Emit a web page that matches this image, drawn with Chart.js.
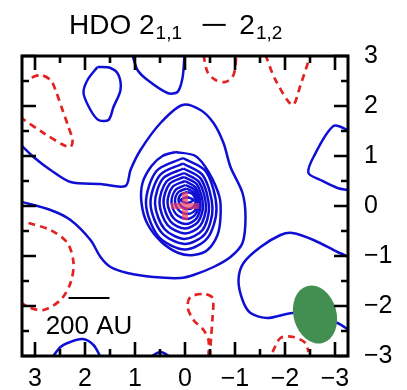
<!DOCTYPE html>
<html><head><meta charset="utf-8">
<script src="https://cdn.jsdelivr.net/npm/chart.js@4.4.1/dist/chart.umd.min.js"></script>
<style>
html,body{margin:0;padding:0;background:#fff;}
#wrap{position:relative;width:407px;height:390px;overflow:hidden;}
canvas{position:absolute;left:0;top:0;}
#title{position:absolute;left:69px;top:11px;font-family:'Liberation Sans',Arial,sans-serif;font-size:28px;line-height:28px;white-space:nowrap;color:#000;}
#title .sub{font-size:19px;position:relative;top:5px;margin-left:1px;}
#title .op{display:inline-block;transform:scaleX(1.7);margin-left:24px;margin-right:17px;}
</style></head><body>
<div id="wrap"><canvas id="c" width="407" height="390"></canvas>
<div id="title">HDO 2<span class="sub">1,1</span><span class="op">−</span>2<span class="sub">1,2</span></div></div>
<script>
// ---- axes ----
const xTicks = [3, 2, 1, 0, -1, -2, -3];
const yTicks = [-3, -2, -1, 0, 1, 2, 3];
const minorTicks = [-2.5, -1.5, -0.5, 0.5, 1.5, 2.5];
const xRange = [-3.26, 3.26];
const yRange = [-3, 3];

// ---- markers ----
const sourcePos = [[0, 0]];
const scaleBarAU = [[2.33, -1.84], [1.51, -1.84]];
const scaleBarLabel = '200 AU';
const scaleBarLabelPos = [1.92, -2.42];
const beamCenter = [-2.6, -2.17];
const beamAxes = [0.43, 0.59]; // semi-minor, semi-major (arcsec)
const beamPA = -15;            // degrees

// ---- positive contours (solid blue) ----
const blueNorthEdge = [[1.05,3.02],[0.95,2.72],[0.75,2.52],[0.35,2.26],[0.15,2.28],[0.05,2.56],[0.01,3.02]];
const blueNWIsland = [[1.75,2.78],[1.49,2.76],[1.33,2.62],[1.29,2.32],[1.43,1.98],[1.53,1.72],[1.73,1.72],[1.89,1.92],[2.03,2.26],[1.95,2.52],[1.75,2.78]];
const blueMain = [[3.3,1.24],[3.03,0.98],[2.69,0.72],[2.29,0.48],[1.69,0.44],[1.19,0.40],[1.09,0.72],[0.89,1.12],[0.49,1.66],[0.05,2.02],[-0.31,1.92],[-0.57,1.66],[-0.77,1.26],[-0.91,0.78],[-1.15,0.26],[-1.21,-0.22],[-1.15,-0.74],[-0.91,-1.02],[-0.57,-1.22],[-0.17,-1.38],[0.09,-1.44],[0.63,-1.42],[1.15,-1.34],[1.49,-1.22],[1.69,-1.02],[1.89,-0.68],[2.29,-0.28],[2.69,-0.08],[3.3,0.09]];
const blueEastEdge = [[-3.3,1.50],[-2.97,1.6],[-2.57,0.98],[-2.47,0.66],[-2.71,0.52],[-3.05,0.36],[-3.3,0.31]];
const blueSouthEast = [[-3.3,-1.03],[-3.05,-0.92],[-2.57,-0.68],[-2.15,-0.54],[-1.91,-0.58],[-1.51,-0.82],[-1.17,-1.14],[-1.07,-1.48],[-1.15,-1.88],[-1.31,-2.14],[-1.65,-2.24],[-2.15,-2.14],[-2.6,-2.2],[-3.05,-2.34],[-3.3,-2.5]];
const blueSouth1 = [[2.65,-3.02],[2.49,-2.82],[2.35,-2.74],[2.05,-2.66],[1.83,-2.78],[1.69,-3.02]];
const blueSouth2 = [[0.69,-3.02],[0.49,-2.92],[0.29,-3.02]];
const ring1 = [[0.19,1.08],[-0.21,1.0],[-0.47,0.68],[-0.69,0.18],[-0.71,-0.22],[-0.65,-0.58],[-0.45,-0.88],[-0.17,-0.98],[0.13,-0.94],[0.47,-0.72],[0.75,-0.36],[0.87,0.06],[0.85,0.46],[0.67,0.80],[0.45,1.0],[0.19,1.08]];
const ring2 = [[0.04,0.96],[-0.42,0.69],[-0.63,-0.05],[-0.45,-0.64],[0.0,-0.87],[0.53,-0.61],[0.78,0.05],[0.57,0.70],[0.04,0.96]];
const ring3 = [[0.04,0.85],[-0.36,0.61],[-0.55,-0.04],[-0.40,-0.56],[0.01,-0.76],[0.47,-0.53],[0.69,0.05],[0.50,0.62],[0.04,0.85]];
const ring4 = [[0.03,0.75],[-0.32,0.54],[-0.48,-0.03],[-0.35,-0.48],[0.01,-0.66],[0.41,-0.46],[0.60,0.05],[0.44,0.55],[0.03,0.75]];
const ring5 = [[0.02,0.66],[-0.28,0.48],[-0.42,-0.01],[-0.30,-0.40],[0.0,-0.55],[0.35,-0.38],[0.51,0.06],[0.37,0.49],[0.02,0.66]];
const ring6 = [[0.02,0.58],[-0.24,0.43],[-0.36,0.01],[-0.26,-0.32],[0.0,-0.45],[0.29,-0.31],[0.43,0.07],[0.31,0.44],[0.02,0.58]];
const ring7 = [[0.0,0.50],[-0.21,0.37],[-0.31,0.03],[-0.23,-0.25],[-0.01,-0.36],[0.23,-0.24],[0.35,0.07],[0.25,0.38],[0.0,0.50]];
const ring8 = [[-0.01,0.42],[-0.19,0.32],[-0.27,0.05],[-0.20,-0.18],[-0.03,-0.26],[0.18,-0.16],[0.27,0.08],[0.19,0.32],[-0.01,0.42]];
const ring9 = [[-0.03,0.35],[-0.17,0.27],[-0.24,0.07],[-0.19,-0.10],[-0.04,-0.16],[0.12,-0.09],[0.20,0.10],[0.13,0.28],[-0.03,0.35]];
const ring10 = [[-0.05,0.28],[-0.16,0.23],[-0.21,0.09],[-0.17,-0.02],[-0.06,-0.06],[0.07,-0.01],[0.13,0.11],[0.08,0.23],[-0.05,0.28]];
const ring11 = [[-0.04,0.18],[-0.17,0.12],[-0.04,0.06],[0.09,0.12],[-0.04,0.18]];

// ---- negative contours (dashed red) ----
const redNW = [[3.3,1.78],[2.83,1.46],[2.43,1.22],[2.29,1.18],[2.25,1.32],[2.33,1.58],[2.45,1.92],[2.59,2.32],[2.69,2.52],[2.89,2.62],[3.09,2.56]];
const redNorth1 = [[-0.37,3.02],[-0.45,2.68],[-0.61,2.52],[-0.81,2.48],[-0.97,2.62],[-1.03,3.02]];
const redNorth2 = [[-1.61,3.02],[-1.81,2.52],[-2.15,2.02],[-2.31,2.42],[-2.51,3.02]];
const redSW = [[3.13,-0.34],[2.69,-0.48],[2.35,-0.74],[2.23,-1.14],[2.29,-1.54],[2.49,-1.88],[2.83,-2.08],[3.09,-2.04],[3.3,-1.92]];
const redSouth = [[-0.47,-3.02],[-0.47,-2.68],[-0.37,-2.48],[-0.17,-2.28],[-0.05,-2.02],[-0.11,-1.82],[-0.37,-1.76],[-0.55,-1.84],[-0.55,-2.24],[-0.52,-2.64],[-0.50,-3.02]];
const redSouthEast = [[-1.75,-2.92],[-1.91,-2.64],[-2.17,-2.62],[-2.41,-2.74],[-2.47,-2.92]];

const BLUE = '#0f0fd4', RED = '#e32222', GREEN = '#438f52';
const FONT = "'Liberation Sans', Arial, sans-serif";
const toPts = a => a.map(([x, y]) => ({x, y}));
const fmt = v => v < 0 ? '\u2212' + (-v) : String(v);

const positive = [blueNorthEdge, blueNWIsland, blueMain, blueEastEdge, blueSouthEast, blueSouth1, blueSouth2,
  ring1, ring2, ring3, ring4, ring5, ring6, ring7, ring8, ring9, ring10, ring11];
const negative = [redNW, redNorth1, redNorth2, redSW, redSouth, redSouthEast];

const datasets = [
  {data: toPts(sourcePos), showLine: false, pointStyle: 'cross', pointRadius: 14,
   pointBorderWidth: 6, pointBorderColor: 'rgba(240,62,95,0.68)', order: 0},
  {data: toPts(scaleBarAU), showLine: true, borderColor: '#000', borderWidth: 1.8, pointRadius: 0, order: 1},
  ...positive.map(d => ({data: toPts(d), showLine: true, borderColor: BLUE, borderWidth: 2.5,
    pointRadius: 0, tension: 0.3, fill: false, order: 3})),
  ...negative.map(d => ({data: toPts(d), showLine: true, borderColor: RED, borderWidth: 2.7,
    borderDash: [7, 5], pointRadius: 0, tension: 0.3, fill: false, order: 4}))
];

const decor = {
  id: 'decor',
  afterDatasetsDraw(chart) {
    const {ctx, chartArea: a, scales: {x, y}} = chart;
    // beam
    ctx.save();
    ctx.beginPath(); ctx.rect(a.left, a.top, a.right - a.left, a.bottom - a.top); ctx.clip();
    const cx = x.getPixelForValue(beamCenter[0]), cy = y.getPixelForValue(beamCenter[1]);
    const rx = Math.abs(x.getPixelForValue(beamCenter[0] + beamAxes[0]) - cx);
    const ry = Math.abs(y.getPixelForValue(beamCenter[1] + beamAxes[1]) - cy);
    ctx.fillStyle = GREEN;
    ctx.beginPath(); ctx.ellipse(cx, cy, rx, ry, beamPA * Math.PI / 180, 0, 2 * Math.PI); ctx.fill();
    ctx.restore();
    // scale-bar label
    ctx.save();
    ctx.font = '26px ' + FONT; ctx.fillStyle = '#000'; ctx.textAlign = 'center'; ctx.textBaseline = 'middle';
    ctx.fillText(scaleBarLabel, x.getPixelForValue(scaleBarLabelPos[0]), y.getPixelForValue(scaleBarLabelPos[1]));
    ctx.restore();
    // frame + inward ticks
    ctx.save();
    ctx.strokeStyle = '#000'; ctx.lineWidth = 3;
    ctx.strokeRect(a.left, a.top, a.right - a.left, a.bottom - a.top);
    ctx.lineWidth = 2.6; ctx.beginPath();
    const xt = xTicks.map(v => [v, 14]).concat(minorTicks.map(v => [v, 7]));
    const yt = yTicks.map(v => [v, 14]).concat(minorTicks.map(v => [v, 7]));
    xt.forEach(([v, L]) => { const p = x.getPixelForValue(v);
      ctx.moveTo(p, a.bottom); ctx.lineTo(p, a.bottom - L); ctx.moveTo(p, a.top); ctx.lineTo(p, a.top + L); });
    yt.forEach(([v, L]) => { const p = y.getPixelForValue(v);
      ctx.moveTo(a.left, p); ctx.lineTo(a.left + L, p); ctx.moveTo(a.right, p); ctx.lineTo(a.right - L, p); });
    ctx.stroke();
    ctx.restore();
  }
};

new Chart(document.getElementById('c'), {
  type: 'scatter',
  data: {datasets},
  plugins: [decor],
  options: {
    responsive: false, animation: false, devicePixelRatio: 1, events: [],
    layout: {padding: {left: 22, top: 56, right: 0, bottom: 0}},
    plugins: {legend: {display: false}, tooltip: {enabled: false}, title: {display: false}},
    scales: {
      x: {type: 'linear', position: 'bottom', reverse: true, min: xRange[0], max: xRange[1],
        grid: {display: false, drawTicks: false}, border: {display: false},
        afterBuildTicks: s => { s.ticks = xTicks.map(v => ({value: v})); },
        afterFit: s => { s.height = 34; },
        ticks: {autoSkip: false, maxRotation: 0, padding: 8, color: '#000',
          font: {family: FONT, size: 25}, callback: v => fmt(v)}},
      y: {type: 'linear', position: 'right', min: yRange[0], max: yRange[1],
        grid: {display: false, drawTicks: false}, border: {display: false},
        afterBuildTicks: s => { s.ticks = yTicks.map(v => ({value: v})); },
        afterFit: s => { s.width = 59; },
        ticks: {autoSkip: false, padding: 16, color: '#000',
          font: {family: FONT, size: 25}, callback: v => fmt(v)}}
    }
  }
});
</script>
</body></html>
